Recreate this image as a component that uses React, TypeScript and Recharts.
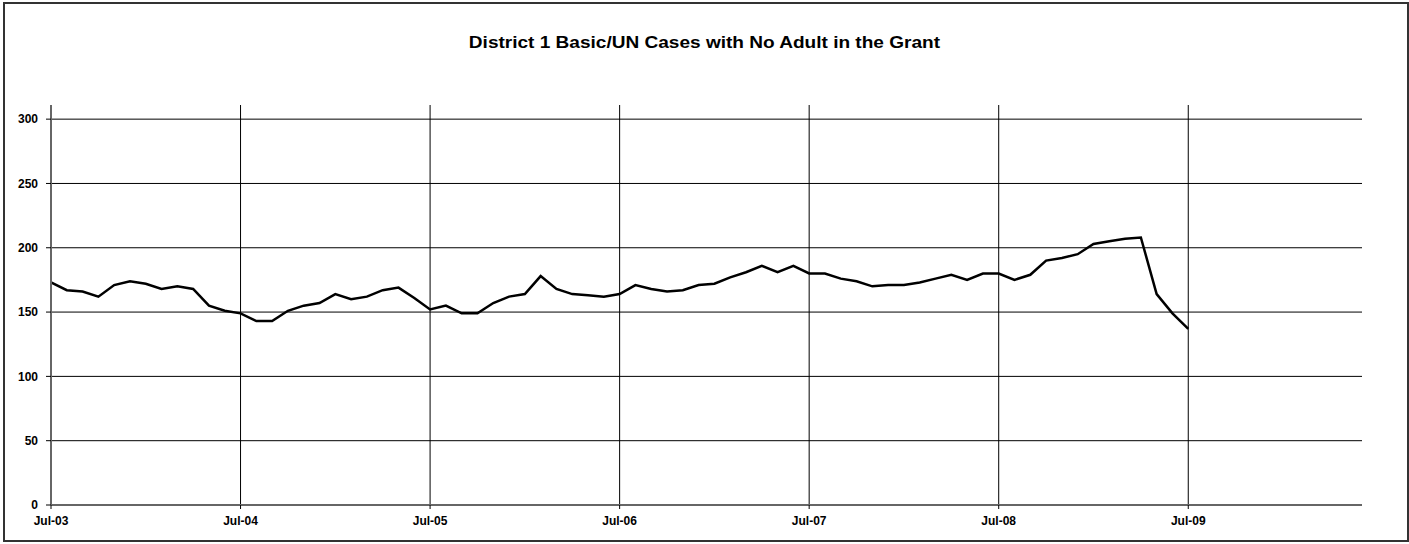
import { LineChart, Line, XAxis, YAxis, CartesianGrid } from "recharts";

const title = "District 1 Basic/UN Cases with No Adult in the Grant";

// monthly counts, Jul-03 .. Jul-09
const cases = [
  173, 167, 166, 162, 171, 174, 172, 168, 170, 168, 155, 151,
  149, 143, 143, 151, 155, 157, 164, 160, 162, 167, 169, 161,
  152, 155, 149, 149, 157, 162, 164, 178, 168, 164, 163, 162,
  164, 171, 168, 166, 167, 171, 172, 177, 181, 186, 181, 186,
  180, 180, 176, 174, 170, 171, 171, 173, 176, 179, 175, 180,
  180, 175, 179, 190, 192, 195, 203, 205, 207, 208, 164, 149,
  137,
];

const xTickLabels = ["Jul-03", "Jul-04", "Jul-05", "Jul-06", "Jul-07", "Jul-08", "Jul-09"];
const xTickMonths = [0, 12, 24, 36, 48, 60, 72];
const yTicks = [0, 50, 100, 150, 200, 250, 300];

const data = cases.map((v, i) => ({ m: i, cases: v }));

const font = "'Liberation Sans', Arial, sans-serif";

const App = () => {
  return (
    <div
      style={{
        position: "absolute",
        left: 0,
        top: 0,
        width: 1409,
        height: 544,
        background: "#fff",
        fontFamily: font,
      }}
    >
      <div
        style={{
          position: "absolute",
          left: 3,
          top: 2,
          width: 1406,
          height: 540,
          boxSizing: "border-box",
          border: "2px solid #333",
        }}
      />
      <div
        style={{
          position: "absolute",
          left: 0,
          top: 33,
          width: 1409,
          textAlign: "center",
          fontWeight: "bold",
          fontSize: 17,
          color: "#000",
          transform: "scaleX(1.12)",
          transformOrigin: "705px 0",
        }}
      >
        {title}
      </div>
      <div style={{ position: "absolute", left: 0, top: 0 }}>
        <LineChart
          width={1409}
          height={544}
          data={data}
          margin={{ top: 105, right: 47, left: 6, bottom: 9 }}
        >
          <CartesianGrid
            stroke="#000"
            strokeWidth={1}
            horizontalValues={yTicks.slice(1)}
            verticalValues={xTickMonths.slice(1)}
          />
          <XAxis
            dataKey="m"
            type="number"
            domain={[0, 83]}
            ticks={xTickMonths}
            tickFormatter={(v: number) => xTickLabels[xTickMonths.indexOf(v)]}
            height={30}
            axisLine={{ stroke: "#666", strokeWidth: 2 }}
            tickLine={{ stroke: "#000" }}
            tickSize={4}
            tickMargin={7}
            tick={{ fill: "#000", fontSize: 12, fontWeight: "bold", fontFamily: font }}
          />
          <YAxis
            type="number"
            domain={[0, 311]}
            ticks={yTicks}
            width={45}
            axisLine={{ stroke: "#666", strokeWidth: 2 }}
            tickLine={{ stroke: "#000" }}
            tickSize={5}
            tickMargin={8}
            tick={{ fill: "#000", fontSize: 12, fontWeight: "bold", fontFamily: font }}
          />
          <Line
            dataKey="cases"
            type="linear"
            stroke="#000"
            strokeWidth={2.5}
            dot={false}
            isAnimationActive={false}
          />
        </LineChart>
      </div>
    </div>
  );
};

export default App;
